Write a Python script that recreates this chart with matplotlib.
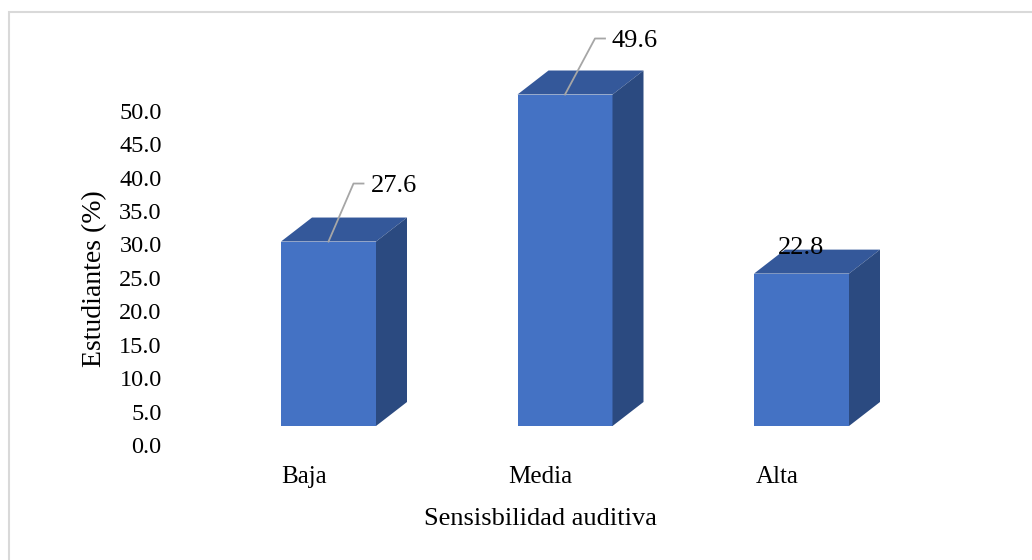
import matplotlib
matplotlib.use("Agg")
import matplotlib.pyplot as plt
from matplotlib.patches import Polygon, Rectangle
import numpy as np

categories = ["Baja", "Media", "Alta"]
values = [27.6, 49.6, 22.8]
labels = ["27.6", "49.6", "22.8"]
yticks = [0, 5, 10, 15, 20, 25, 30, 35, 40, 45, 50]
xlabel = "Sensisbilidad auditiva"
ylabel = "Estudiantes (%)"

plt.rcParams['font.family'] = ['Liberation Serif', 'DejaVu Serif']

W, H = 1032, 560
fig = plt.figure(figsize=(W / 100, H / 100), dpi=100)
fig.patch.set_facecolor("white")

# outer chart border
fig.add_artist(Rectangle((9 / W, -0.05), 1.2, (H - 12) / H + 0.05, transform=fig.transFigure,
                         fill=False, edgecolor="#D9D9D9", linewidth=1.5))

L, R = 170, 1000
bot, top = 445, 44
ax = fig.add_axes([L / W, (H - bot) / H, (R - L) / W, (bot - top) / H])
ax.set_facecolor("none")
px_per_cat = 236.5
x0_px = 328.5
ax.set_xlim(-(x0_px - L) / px_per_cat, (R - x0_px) / px_per_cat)
ax.set_ylim(0, 60)
px_per_unit = (bot - top) / 60.0

front = "#4472C4"
topc = "#34589A"
side = "#2B4A80"
w = 95 / px_per_cat
dx = 31 / px_per_cat
dy = 24 / px_per_unit
base = 19 / px_per_unit

x = np.arange(len(categories))
ax.bar(x, values, width=w, bottom=base, color=front, edgecolor="none", zorder=3)
for i, v in zip(x, values):
    xl, xr = i - w / 2, i + w / 2
    yb, yt = base, base + v
    ax.add_patch(Polygon([(xl, yt), (xr, yt), (xr + dx, yt + dy), (xl + dx, yt + dy)],
                         closed=True, facecolor=topc, edgecolor="none", zorder=3))
    ax.add_patch(Polygon([(xr, yb), (xr + dx, yb + dy), (xr + dx, yt + dy), (xr, yt)],
                         closed=True, facecolor=side, edgecolor="none", zorder=3))

# data labels (leader offsets in pixels)
leader = [(25, 58, 10, 7), (30, 56, 10, 7), None]
for i, (v, lab, ld) in enumerate(zip(values, labels, leader)):
    yt = base + v
    if ld is not None:
        ex, ey, hx, tx = ld
        xs = [i, i + ex / px_per_cat, i + (ex + hx) / px_per_cat]
        ys = [yt, yt + ey / px_per_unit, yt + ey / px_per_unit]
        ax.plot(xs, ys, color="#A6A6A6", lw=1.3, zorder=5, clip_on=False)
        ax.text(xs[-1] + tx / px_per_cat, ys[-1] - 2 / px_per_unit, lab, ha="left", va="center",
                fontsize=19, zorder=6, clip_on=False)
    else:
        ax.text(i, yt + 26 / px_per_unit, lab, ha="center", va="center",
                fontsize=19, zorder=6, clip_on=False)

ax.set_yticks(yticks)
ax.set_yticklabels([f"{t:.1f}" for t in yticks])
ax.set_xticks(x - 24.5 / px_per_cat)
ax.set_xticklabels(categories)
ax.tick_params(axis="both", length=0)
ax.tick_params(axis="y", pad=6, labelsize=17.5)
ax.tick_params(axis="x", pad=15, labelsize=18)
for s in ax.spines.values():
    s.set_visible(False)

fig.text(540 / W, 1 - 519 / H, xlabel, ha="center", va="center", fontsize=19)
fig.text(95 / W, 1 - 279 / H, ylabel, ha="center", va="center", rotation=90, fontsize=20)

fig.savefig("out.png", dpi=100, facecolor="white")
